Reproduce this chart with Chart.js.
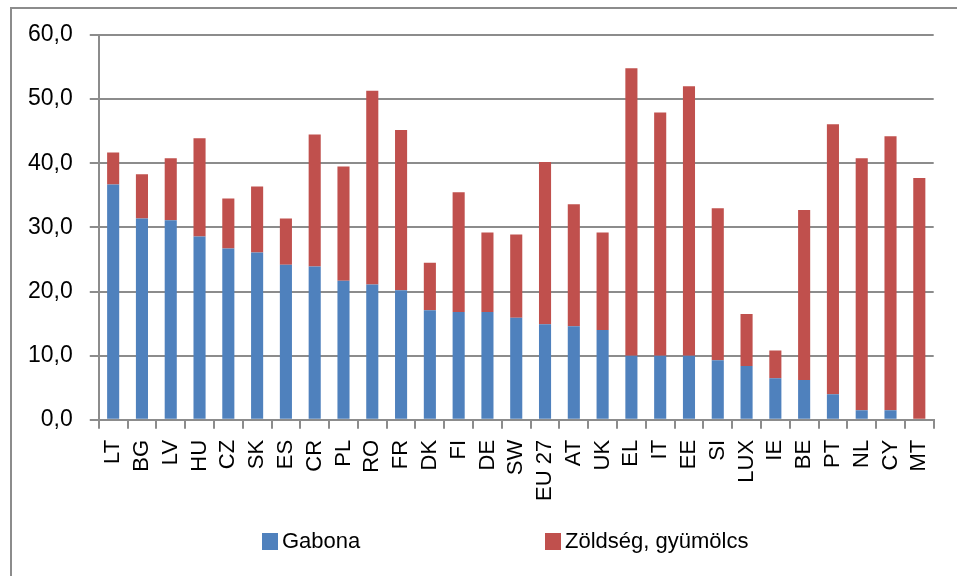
<!DOCTYPE html>
<html>
<head>
<meta charset="utf-8">
<script src="https://cdn.jsdelivr.net/npm/chart.js@4.4.1/dist/chart.umd.min.js"></script>
<style>
  body { margin: 0; overflow: hidden; background: #fff; }
  #frame { position: absolute; left: 10px; top: 7px; width: 1000px; height: 620px; border: 2px solid #8c8c8c; }
  #c { position: absolute; left: 0; top: 0; }
</style>
</head>
<body>
<div id="frame"></div>
<canvas id="c" width="957" height="576"></canvas>
<script>
var countries = ["LT", "BG", "LV", "HU", "CZ", "SK", "ES", "CR", "PL", "RO", "FR", "DK", "FI", "DE", "SW", "EU 27", "AT", "UK", "EL", "IT", "EE", "SI", "LUX", "IE", "BE", "PT", "NL", "CY", "MT"];
var gabona = [36.7, 31.4, 31.1, 28.6, 26.7, 26.1, 24.2, 23.9, 21.7, 21.1, 20.2, 17.1, 16.8, 16.8, 15.9, 14.9, 14.6, 14.0, 10.0, 10.0, 10.0, 9.3, 8.4, 6.5, 6.2, 4.0, 1.5, 1.5, 0];
var zoldseg = [5.0, 6.9, 9.7, 15.3, 7.8, 10.3, 7.2, 20.6, 17.8, 30.2, 25.0, 7.4, 18.7, 12.4, 13.0, 25.3, 19.0, 15.2, 44.8, 37.9, 42.0, 23.7, 8.1, 4.3, 26.5, 42.1, 39.3, 42.7, 37.7];
var seriesNames = ["Gabona", "Zöldség, gyümölcs"];
var seriesColors = ["#4f81bd", "#c0504d"];

var gridColor = "#8c8c8c";
var font = "'Liberation Sans', Arial, sans-serif";

// legend drawn by hand so the two items can sit far apart like the original
var bottomKey = {
  id: "bottomKey",
  afterDraw: function(chart) {
    var ctx = chart.ctx;
    var xs = [262, 545];
    var y = 533;
    ctx.save();
    ctx.font = "22px " + font;
    ctx.textBaseline = "middle";
    ctx.textAlign = "left";
    chart.data.datasets.forEach(function(ds, i) {
      ctx.fillStyle = ds.backgroundColor;
      ctx.fillRect(xs[i], y, 16, 17);
      ctx.fillStyle = "#000";
      ctx.fillText(ds.label, xs[i] + 20, y + 9);
    });
    ctx.restore();
  }
};

new Chart(document.getElementById("c"), {
  type: "bar",
  data: {
    labels: countries,
    datasets: [
      { label: seriesNames[0], data: gabona, backgroundColor: seriesColors[0] },
      { label: seriesNames[1], data: zoldseg, backgroundColor: seriesColors[1] }
    ]
  },
  options: {
    responsive: false,
    animation: false,
    layout: { padding: { left: 11, right: 17, top: 35, bottom: 64 } },
    datasets: { bar: { barPercentage: 0.42, categoryPercentage: 1 } },
    plugins: {
      legend: { display: false },
      tooltip: { enabled: false }
    },
    scales: {
      x: {
        stacked: true,
        grid: { drawOnChartArea: false, color: gridColor, lineWidth: 2, tickLength: 9 },
        border: { color: gridColor, width: 2 },
        ticks: { color: "#000", font: { family: font, size: 22 }, minRotation: 90, maxRotation: 90, padding: 11, autoSkip: false }
      },
      y: {
        stacked: true,
        min: 0,
        max: 60,
        grid: { color: gridColor, lineWidth: 2, tickLength: 9 },
        border: { color: gridColor, width: 2 },
        ticks: {
          stepSize: 10,
          color: "#000",
          padding: 17,
          font: { family: font, size: 23 },
          callback: function(v) { return v.toFixed(1).replace(".", ","); }
        }
      }
    }
  },
  plugins: [bottomKey]
});
</script>
</body>
</html>
